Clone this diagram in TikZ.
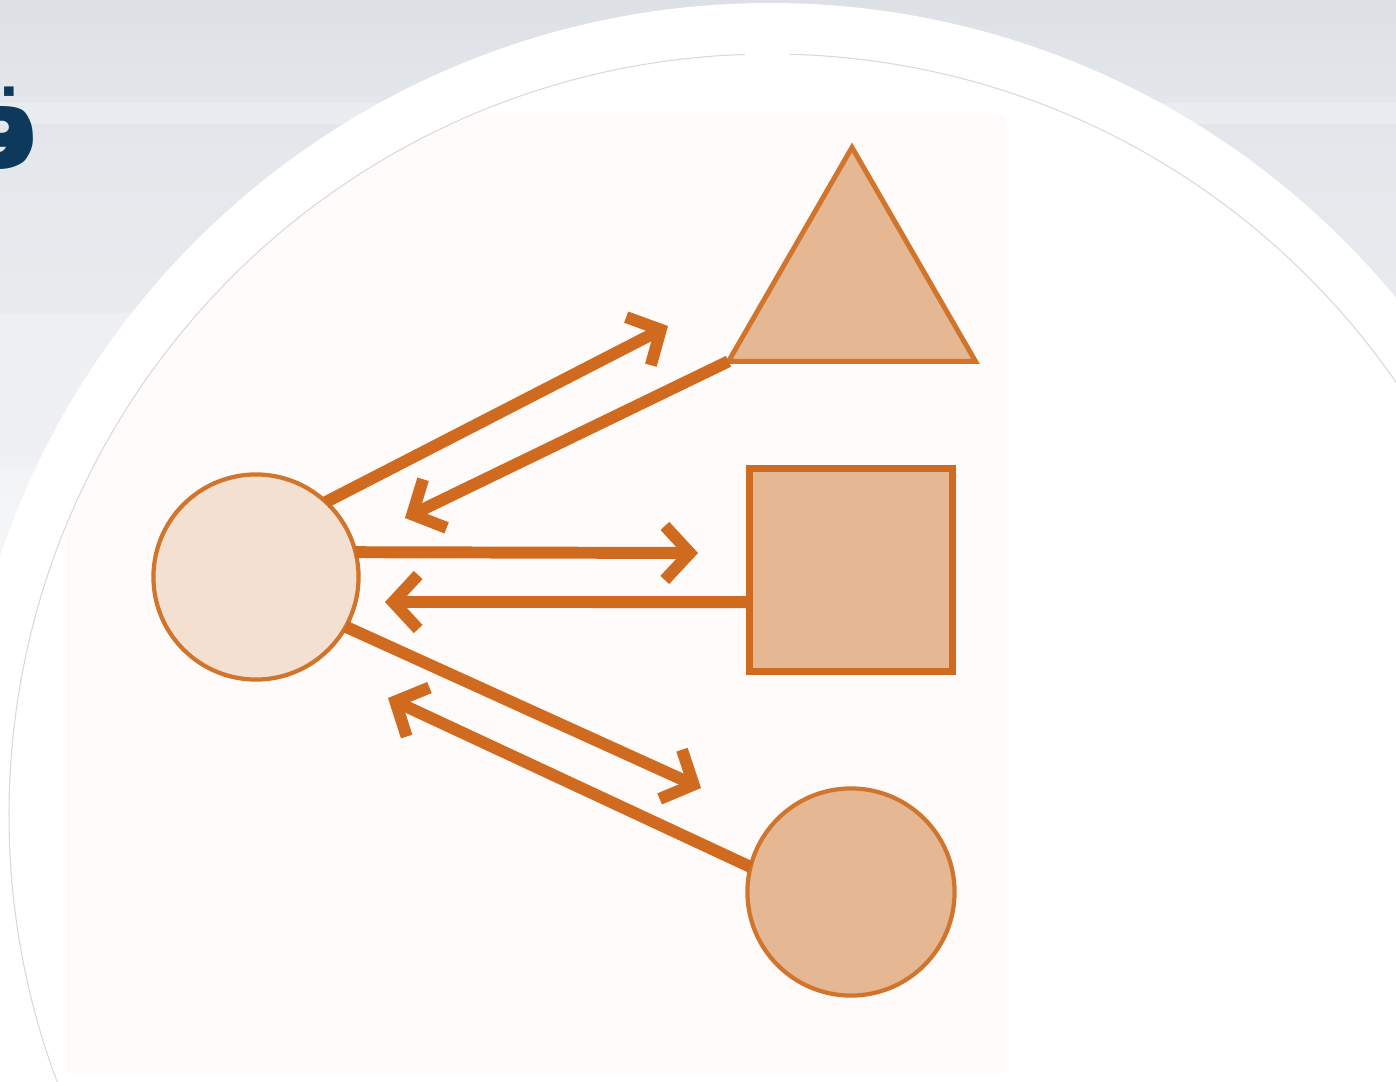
\documentclass[tikz,border=0pt]{standalone}
\usepackage{fontspec}
\newfontfamily\arabicfont[Script=Arabic]{DejaVu Sans}
\TeXXeTstate=1
\usetikzlibrary{arrows.meta,positioning,shapes.geometric}

\definecolor{arrorange}{HTML}{CF6A1E}
\definecolor{edgeorange}{HTML}{D2752C}
\definecolor{lightfill}{HTML}{F4E0D1}
\definecolor{midfill}{HTML}{E5B793}
\definecolor{navy}{HTML}{0D3A5C}
\definecolor{bgtop}{HTML}{DDE1E5}
\definecolor{bgmid}{HTML}{E3E6EA}
\definecolor{bgband}{HTML}{EAEDF0}
\definecolor{bglow}{HTML}{EDEFF2}
\definecolor{bgpale}{HTML}{F3F4F6}
\definecolor{pagepink}{HTML}{FFFBFB}

\begin{document}
\begin{tikzpicture}[
  x=0.01cm, y=-0.01cm,
  figbase/.style={draw=edgeorange, line width=1.2pt, inner sep=0pt, outer sep=0pt},
  arr/.style={draw=arrorange, line width=3.4pt, -{Straight Barb[length=2.5mm, width=5.4mm]}}
]
\useasboundingbox (0,0) rectangle (1396,1081);
\clip (0,0) rectangle (1396,1081);

% background bands
\shade[top color=bgtop, bottom color=bgmid] (0,0) rectangle (1396,103);
\fill[bgband] (0,103) rectangle (1396,124);
\shade[top color=bgmid, bottom color=bgmid!80!white] (0,124) rectangle (1396,313);
\shade[top color=bglow, bottom color=bglow!90!white] (0,313) rectangle (1396,467);
\shade[top color=bgpale, bottom color=white] (0,467) rectangle (1396,1081);

% white disc and thin ring
\fill[white] (770,815) circle[radius=812];
\begin{scope}
  \clip (770,815) circle[radius=760];
  \fill[pagepink] (65,115) rectangle (1005,1073);
\end{scope}
\draw[black!15, line width=0.3pt] (770,815) ++(271.5:761) arc[start angle=271.5, end angle=628.1, radius=761];

\node[anchor=east, text=navy, inner sep=0pt, font=\arabicfont\bfseries\fontsize{37}{42}\selectfont] (title) at (44,128) {\beginR قـ\endR};

% shapes
\node[figbase, circle, fill=lightfill, minimum size=2.05cm] (src) at (256,577) {};
\node[figbase, regular polygon, regular polygon sides=3, fill=midfill, line width=1.4pt, minimum size=2.85cm] (tri) at (852,290) {};
\node[figbase, fill=midfill, line width=2.2pt, draw=arrorange, minimum size=2.03cm] (sq) at (851,570) {};
\node[figbase, circle, fill=midfill, minimum size=2.07cm] (circ) at (851,892) {};

% arrow ends
\coordinate (t1) at (668,326);
\coordinate (t2) at (405,518);
\coordinate (t3) at (698,553);
\coordinate (t4) at (385,602);
\coordinate (t5) at (701,788);
\coordinate (t6) at (388,698);

\draw[arr] (src.47) -- (t1);
\draw[arr] (tri.corner 2) -- (t2);
\draw[arr] (src.14) -- (t3);
\draw[arr] ([yshift=-0.32cm]sq.west) -- (t4);
\draw[arr] (src.-29) -- (t5);
\draw[arr] (circ.166) -- (t6);
\end{tikzpicture}
\end{document}
